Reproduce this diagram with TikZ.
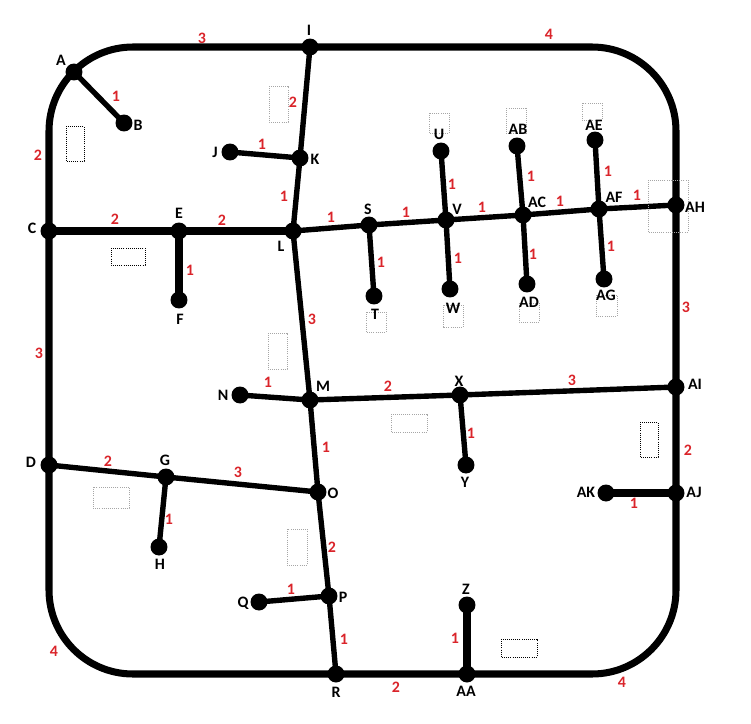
\documentclass[tikz,border=0pt]{standalone}
\usepackage{fontspec}
\setmainfont{Carlito}
\definecolor{wtred}{RGB}{218,36,42}

\begin{document}
\begin{tikzpicture}[x=0.03cm,y=-0.03cm,
   dot/.style={circle,fill=black,inner sep=0pt,minimum size=14.5pt},
   road/.style={line width=4.6pt},
   wideroad/.style={line width=6.4pt},
   ring/.style={line width=6pt,rounded corners=71.7pt},
   lbl/.style={font=\fontsize{13.6}{15}\selectfont\bfseries,inner sep=0pt},
   wt/.style={lbl,text=wtred},
   lot/.style={densely dotted,line width=0.8pt},
   greylot/.style={lot,draw=black!35}]
   \useasboundingbox (0,0) rectangle (751,723);
   % junctions and dead ends
   \node[dot] (A) at (74,72) {};
   \node[dot] (B) at (124,123) {};
   \node[dot] (C) at (49,231) {};
   \node[dot] (D) at (49,465) {};
   \node[dot] (E) at (179,231) {};
   \node[dot] (F) at (179,300) {};
   \node[dot] (G) at (166,477) {};
   \node[dot] (H) at (159,547) {};
   \node[dot] (I) at (310,47) {};
   \node[dot] (J) at (230,152) {};
   \node[dot] (K) at (300,158) {};
   \node[dot] (L) at (293,231) {};
   \node[dot] (M) at (310,400) {};
   \node[dot] (N) at (240,395) {};
   \node[dot] (O) at (318,492) {};
   \node[dot] (P) at (329,596) {};
   \node[dot] (Q) at (259,602) {};
   \node[dot] (R) at (336,674) {};
   \node[dot] (S) at (369,225) {};
   \node[dot] (T) at (374,296) {};
   \node[dot] (U) at (441,151) {};
   \node[dot] (V) at (446,220) {};
   \node[dot] (W) at (450,289) {};
   \node[dot] (X) at (460,395) {};
   \node[dot] (Y) at (466,465) {};
   \node[dot] (Z) at (467,605) {};
   \node[dot] (AA) at (467,674) {};
   \node[dot] (AB) at (517,146) {};
   \node[dot] (AC) at (523,215) {};
   \node[dot] (AD) at (527,284) {};
   \node[dot] (AE) at (595,140) {};
   \node[dot] (AF) at (599,209) {};
   \node[dot] (AG) at (604,279) {};
   \node[dot] (AH) at (676,205) {};
   \node[dot] (AI) at (676,387) {};
   \node[dot] (AJ) at (676,493) {};
   \node[dot] (AK) at (606,493) {};
   % outer road, through A, I, AH, AI, AJ, AA, R, D
   \draw[ring] (C.center) -- (C |- I) -- (AH |- I) -- (AH |- R) -- (C |- R) -- cycle;
   % inner roads
   \draw[wideroad] (C.center) -- (E.center) -- (L.center);
   \draw[wideroad] (E.center) -- (F.center);
   \draw[wideroad] (Z.center) -- (AA.center);
   \draw[wideroad] (AK.center) -- (AJ.center);
   \draw[road] (A.center) -- (B.center);
   \draw[road] (I.center) -- (K.center) -- (L.center) -- (M.center) -- (O.center) -- (P.center) -- (R.center);
   \draw[road] (J.center) -- (K.center);
   \draw[road] (L.center) -- (S.center) -- (V.center) -- (AC.center) -- (AF.center) -- (AH.center);
   \draw[road] (S.center) -- (T.center);
   \draw[road] (U.center) -- (V.center) -- (W.center);
   \draw[road] (AB.center) -- (AC.center) -- (AD.center);
   \draw[road] (AE.center) -- (AF.center) -- (AG.center);
   \draw[road] (N.center) -- (M.center) -- (X.center) -- (AI.center);
   \draw[road] (X.center) -- (Y.center);
   \draw[road] (D.center) -- (G.center) -- (O.center);
   \draw[road] (G.center) -- (H.center);
   \draw[road] (Q.center) -- (P.center);
   % dotted plots
   \draw[lot] (66,126) rectangle (84,161);
   \draw[lot] (111,248) rectangle (145,265);
   \draw[lot] (640,422) rectangle (658,457);
   \draw[lot] (501,639) rectangle (537,657);
   \draw[greylot] (269,86) rectangle (288,122);
   \draw[greylot] (268,333) rectangle (287,369);
   \draw[greylot] (93,487) rectangle (129,508);
   \draw[greylot] (287,529) rectangle (307,565);
   \draw[greylot] (391,414) rectangle (427,432);
   \draw[greylot] (366,312) rectangle (386,332);
   \draw[greylot] (429,113) rectangle (449,133);
   \draw[greylot] (506,108) rectangle (526,133);
   \draw[greylot] (582,103) rectangle (602,120);
   \draw[greylot] (443,305) rectangle (463,327);
   \draw[greylot] (519,303) rectangle (539,322);
   \draw[greylot] (596,295) rectangle (617,316);
   \draw[greylot] (648,180) rectangle (688,232);
   % names
   \node[lbl] (tA) at (61,60) {A};
   \node[lbl] (tB) at (138,125) {B};
   \node[lbl] (tC) at (32,228) {C};
   \node[lbl] (tD) at (31,462) {D};
   \node[lbl] (tE) at (179,213) {E};
   \node[lbl] (tF) at (180,319) {F};
   \node[lbl] (tG) at (165,460) {G};
   \node[lbl] (tH) at (160,564) {H};
   \node[lbl] (tI) at (309,30) {I};
   \node[lbl] (tJ) at (215,152) {J};
   \node[lbl] (tK) at (315,159) {K};
   \node[lbl] (tL) at (281,246) {L};
   \node[lbl] (tM) at (323,386) {M};
   \node[lbl] (tN) at (223,395) {N};
   \node[lbl] (tO) at (333,493) {O};
   \node[lbl] (tP) at (343,597) {P};
   \node[lbl] (tQ) at (243,603) {Q};
   \node[lbl] (tR) at (336,692) {R};
   \node[lbl] (tS) at (368,209) {S};
   \node[lbl] (tT) at (375,314) {T};
   \node[lbl] (tU) at (439,134) {U};
   \node[lbl] (tV) at (457,209) {V};
   \node[lbl] (tW) at (453,308) {W};
   \node[lbl] (tX) at (459,381) {X};
   \node[lbl] (tY) at (465,482) {Y};
   \node[lbl] (tZ) at (466,589) {Z};
   \node[lbl] (tAA) at (466,691) {AA};
   \node[lbl] (tAB) at (518,129) {AB};
   \node[lbl] (tAC) at (537,202) {AC};
   \node[lbl] (tAD) at (529,302) {AD};
   \node[lbl] (tAE) at (594,125) {AE};
   \node[lbl] (tAF) at (614,197) {AF};
   \node[lbl] (tAG) at (606,295) {AG};
   \node[lbl] (tAH) at (695,207) {AH};
   \node[lbl] (tAI) at (695,384) {AI};
   \node[lbl] (tAJ) at (694,492) {AJ};
   \node[lbl] (tAK) at (586,492) {AK};
   % lengths
   \node[wt] (wAI) at (202,38) {3};
   \node[wt] (wIAH) at (549,34) {4};
   \node[wt] (wAB) at (116,96) {1};
   \node[wt] (wAC) at (38,155) {2};
   \node[wt] (wIK) at (293,102) {2};
   \node[wt] (wJK) at (262,144) {1};
   \node[wt] (wKL) at (284,196) {1};
   \node[wt] (wCE) at (115,219) {2};
   \node[wt] (wEL) at (222,220) {2};
   \node[wt] (wEF) at (190,270) {1};
   \node[wt] (wLS) at (331,217) {1};
   \node[wt] (wST) at (381,262) {1};
   \node[wt] (wSV) at (406,212) {1};
   \node[wt] (wUV) at (452,184) {1};
   \node[wt] (wVW) at (458,258) {1};
   \node[wt] (wVAC) at (482,207) {1};
   \node[wt] (wABAC) at (531,176) {1};
   \node[wt] (wACAD) at (533,254) {1};
   \node[wt] (wACAF) at (560,201) {1};
   \node[wt] (wAEAF) at (608,171) {1};
   \node[wt] (wAFAG) at (611,246) {1};
   \node[wt] (wAFAH) at (637,195) {1};
   \node[wt] (wAHAI) at (686,307) {3};
   \node[wt] (wCD) at (39,353) {3};
   \node[wt] (wLM) at (312,319) {3};
   \node[wt] (wNM) at (268,382) {1};
   \node[wt] (wMX) at (388,386) {2};
   \node[wt] (wXAI) at (572,380) {3};
   \node[wt] (wXY) at (471,433) {1};
   \node[wt] (wMO) at (326,447) {1};
   \node[wt] (wDG) at (108,461) {2};
   \node[wt] (wGO) at (238,472) {3};
   \node[wt] (wGH) at (169,519) {1};
   \node[wt] (wOP) at (332,547) {2};
   \node[wt] (wQP) at (291,589) {1};
   \node[wt] (wPR) at (344,639) {1};
   \node[wt] (wAIAJ) at (688,450) {2};
   \node[wt] (wAKAJ) at (634,503) {1};
   \node[wt] (wDR) at (54,651) {4};
   \node[wt] (wRAA) at (396,687) {2};
   \node[wt] (wZAA) at (455,638) {1};
   \node[wt] (wAAAJ) at (622,682) {4};
\end{tikzpicture}
\end{document}
